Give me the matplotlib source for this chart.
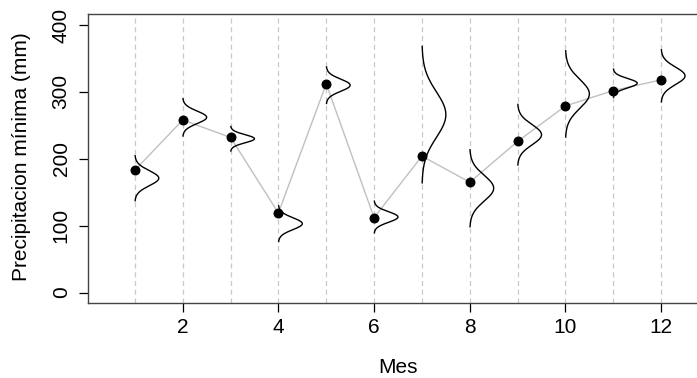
import numpy as np
import matplotlib.pyplot as plt

plt.rcParams['font.family'] = ['Liberation Sans', 'DejaVu Sans']

# monthly minimum precipitation (points) and density params
meses = [1, 2, 3, 4, 5, 6, 7, 8, 9, 10, 11, 12]
precip = [183, 258, 232, 119, 312, 112, 204, 165, 226, 279, 302, 318]
dens_media = [171, 262, 230, 103, 310, 113, 266, 156, 236, 297, 313, 324]
dens_sd = [11.2, 9.3, 6.1, 8.9, 9.1, 7.9, 34, 19.2, 15.1, 21.5, 7.0, 13.0]

fig = plt.figure(figsize=(6.97, 3.78), dpi=100)
ax = fig.add_axes([88/697, 74.7/378, 620/697, 289/378])

for m in meses:
    ax.axvline(m, color='#c8c8c8', ls=(0, (4, 3)), lw=0.9, zorder=0)

ax.plot(meses, precip, color='#c0c0c0', lw=1, zorder=1)

for m, mu, sd in zip(meses, dens_media, dens_sd):
    yy = np.linspace(mu - 3*sd, mu + 3*sd, 200)
    d = np.exp(-(yy - mu)**2 / (2*sd**2))
    ax.plot(m + 0.5*d, yy, color='black', lw=1, zorder=2)

ax.scatter(meses, precip, s=38, color='black', zorder=3)

ax.set_xlim(0.02, 12.98)
ax.set_ylim(-16, 416)
ax.set_xticks([2, 4, 6, 8, 10, 12])
ax.set_yticks([0, 100, 200, 300, 400])
ax.tick_params(labelsize=15, length=6.5, width=0.9)
ax.tick_params(axis='x', pad=4)
ax.tick_params(axis='y', pad=6)
for lab in ax.get_yticklabels():
    lab.set_rotation(90)
    lab.set_va('center')
for s in ax.spines.values():
    s.set_color('#444444')
    s.set_linewidth(1)

fig.text(398/697, 1 - 373/378, 'Mes', fontsize=15, ha='center', va='baseline')
fig.text(22/697, 1 - 157/378, 'Precipitacion mínima (mm)', fontsize=15,
         rotation=90, ha='center', va='center')

fig.savefig('out.png', dpi=100)
